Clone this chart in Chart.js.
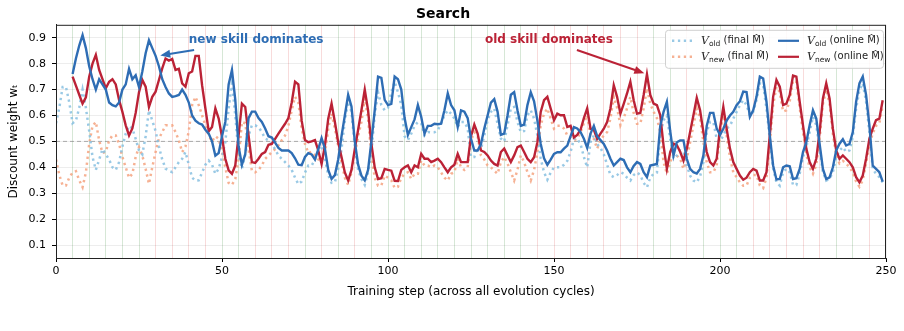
<!DOCTYPE html>
<html>
<head>
<meta charset="utf-8">
<script src="https://cdn.jsdelivr.net/npm/chart.js@4.4.1/dist/chart.umd.min.js"></script>
<style>
  html, body { margin: 0; padding: 0; background: #fff; }
  #wrap { width: 904px; height: 331px; position: relative; }
</style>
</head>
<body>
<div id="wrap"><canvas id="chart"></canvas></div>
<script>
// steps where each series begins
const finalStart = 0;
const onlineStart = 5;

// V_old, online M-hat (steps 5..249)
const oldOnline = [
  0.76,0.82,0.87,0.91,0.86,0.79,0.74,0.70,0.74,0.72,
  0.70,0.65,0.64,0.635,0.65,0.70,0.72,0.78,0.74,0.755,
  0.71,0.77,0.84,0.89,0.86,0.83,0.79,0.74,0.71,0.685,
  0.672,0.675,0.679,0.70,0.68,0.65,0.60,0.58,0.57,0.565,
  0.545,0.53,0.50,0.445,0.455,0.52,0.575,0.72,0.776,0.66,
  0.48,0.41,0.45,0.59,0.615,0.615,0.59,0.575,0.55,0.52,
  0.515,0.495,0.475,0.465,0.465,0.465,0.455,0.435,0.41,0.408,
  0.44,0.455,0.45,0.43,0.47,0.513,0.472,0.39,0.355,0.37,
  0.43,0.52,0.60,0.68,0.635,0.50,0.41,0.368,0.35,0.39,
  0.50,0.62,0.75,0.745,0.66,0.64,0.645,0.75,0.74,0.70,
  0.59,0.525,0.555,0.585,0.64,0.595,0.53,0.56,0.56,0.568,
  0.566,0.568,0.62,0.685,0.64,0.62,0.556,0.62,0.615,0.59,
  0.51,0.465,0.465,0.49,0.55,0.60,0.65,0.663,0.615,0.525,
  0.53,0.60,0.68,0.69,0.62,0.56,0.565,0.64,0.69,0.655,
  0.58,0.49,0.435,0.41,0.43,0.452,0.458,0.458,0.472,0.484,
  0.52,0.555,0.55,0.536,0.51,0.475,0.53,0.56,0.52,0.505,
  0.49,0.465,0.433,0.407,0.42,0.433,0.428,0.40,0.381,0.405,
  0.42,0.413,0.381,0.362,0.407,0.41,0.413,0.56,0.614,0.653,
  0.54,0.446,0.497,0.504,0.504,0.433,0.394,0.381,0.376,0.394,
  0.446,0.56,0.61,0.61,0.55,0.525,0.549,0.58,0.60,0.614,
  0.64,0.655,0.692,0.69,0.595,0.62,0.672,0.75,0.743,0.653,
  0.523,0.407,0.353,0.355,0.40,0.407,0.404,0.355,0.358,0.394,
  0.459,0.497,0.562,0.62,0.588,0.491,0.394,0.355,0.361,0.40,
  0.465,0.491,0.508,0.484,0.49,0.536,0.653,0.724,0.75,0.679,
  0.562,0.407,0.394,0.381,0.345
];

// V_new, online M-hat (steps 5..249)
const newOnline = [
  0.75,0.715,0.68,0.646,0.67,0.75,0.80,0.834,0.776,0.74,
  0.705,0.73,0.74,0.72,0.66,0.614,0.562,0.523,0.55,0.61,
  0.69,0.737,0.711,0.633,0.672,0.692,0.737,0.782,0.82,0.812,
  0.818,0.776,0.78,0.724,0.711,0.763,0.77,0.83,0.83,0.717,
  0.627,0.539,0.556,0.627,0.588,0.517,0.433,0.388,0.375,0.407,
  0.523,0.646,0.633,0.523,0.42,0.417,0.433,0.452,0.459,0.487,
  0.49,0.51,0.53,0.549,0.568,0.59,0.65,0.73,0.72,0.58,
  0.505,0.497,0.50,0.505,0.465,0.413,0.484,0.588,0.646,0.575,
  0.497,0.44,0.38,0.349,0.39,0.47,0.545,0.62,0.70,0.62,
  0.49,0.40,0.355,0.358,0.394,0.39,0.387,0.348,0.347,0.39,
  0.40,0.407,0.381,0.407,0.40,0.452,0.433,0.433,0.42,0.426,
  0.433,0.42,0.40,0.381,0.40,0.41,0.452,0.42,0.42,0.42,
  0.52,0.565,0.53,0.465,0.459,0.446,0.426,0.413,0.407,0.459,
  0.472,0.446,0.42,0.446,0.478,0.484,0.459,0.433,0.42,0.439,
  0.497,0.614,0.659,0.672,0.627,0.582,0.607,0.601,0.601,0.556,
  0.56,0.515,0.525,0.545,0.59,0.627,0.549,0.545,0.51,0.53,
  0.549,0.575,0.627,0.717,0.672,0.607,0.645,0.685,0.73,0.659,
  0.607,0.61,0.679,0.759,0.679,0.646,0.64,0.601,0.484,0.394,
  0.459,0.491,0.485,0.46,0.426,0.472,0.536,0.601,0.668,0.62,
  0.536,0.459,0.42,0.407,0.433,0.55,0.633,0.549,0.472,0.42,
  0.394,0.368,0.352,0.36,0.381,0.394,0.387,0.349,0.349,0.381,
  0.523,0.672,0.737,0.711,0.64,0.646,0.679,0.754,0.75,0.653,
  0.562,0.472,0.42,0.394,0.433,0.536,0.666,0.724,0.666,0.549,
  0.465,0.433,0.446,0.433,0.42,0.40,0.362,0.342,0.368,0.433,
  0.51,0.549,0.582,0.588,0.659
];

// V_old, final M-hat (steps 0..249)
const oldFinal = [
  0.57,0.63,0.71,0.71,0.65,0.57,0.58,0.63,0.70,0.63,
  0.54,0.44,0.39,0.43,0.47,0.45,0.43,0.40,0.39,0.42,
  0.48,0.53,0.56,0.55,0.51,0.465,0.45,0.52,0.62,0.58,
  0.54,0.48,0.43,0.395,0.387,0.381,0.40,0.42,0.433,0.459,
  0.41,0.36,0.349,0.35,0.38,0.41,0.426,0.41,0.375,0.394,
  0.44,0.497,0.627,0.724,0.60,0.45,0.394,0.45,0.523,0.562,
  0.562,0.555,0.536,0.511,0.505,0.49,0.47,0.445,0.433,0.42,
  0.407,0.39,0.36,0.335,0.345,0.38,0.407,0.407,0.43,0.47,
  0.484,0.433,0.37,0.34,0.342,0.394,0.47,0.58,0.653,0.614,
  0.48,0.39,0.355,0.332,0.381,0.46,0.60,0.69,0.64,0.62,
  0.63,0.69,0.73,0.69,0.64,0.52,0.505,0.53,0.56,0.575,
  0.57,0.523,0.536,0.535,0.535,0.543,0.57,0.60,0.62,0.607,
  0.588,0.556,0.575,0.575,0.55,0.44,0.44,0.478,0.47,0.523,
  0.582,0.614,0.627,0.568,0.511,0.50,0.562,0.627,0.633,0.575,
  0.536,0.54,0.601,0.62,0.588,0.523,0.433,0.381,0.352,0.38,
  0.40,0.40,0.40,0.41,0.425,0.46,0.51,0.51,0.49,0.44,
  0.40,0.497,0.523,0.49,0.475,0.45,0.41,0.37,0.362,0.37,
  0.381,0.375,0.36,0.349,0.37,0.38,0.37,0.34,0.323,0.36,
  0.375,0.38,0.523,0.582,0.60,0.51,0.433,0.446,0.465,0.46,
  0.407,0.368,0.349,0.342,0.365,0.42,0.536,0.575,0.575,0.51,
  0.50,0.523,0.549,0.56,0.588,0.614,0.64,0.659,0.64,0.60,
  0.614,0.66,0.724,0.718,0.627,0.51,0.394,0.342,0.329,0.381,
  0.394,0.381,0.332,0.332,0.375,0.44,0.478,0.536,0.595,0.562,
  0.472,0.381,0.349,0.355,0.381,0.44,0.465,0.478,0.459,0.465,
  0.517,0.627,0.698,0.724,0.653,0.536,0.394,0.375,0.362,0.342
];

// V_new, final M-hat (steps 0..249)
const newFinal = [
  0.43,0.37,0.33,0.33,0.36,0.38,0.385,0.35,0.323,0.38,
  0.49,0.56,0.575,0.504,0.455,0.46,0.504,0.523,0.523,0.49,
  0.44,0.40,0.36,0.375,0.44,0.478,0.445,0.394,0.336,0.40,
  0.459,0.511,0.536,0.562,0.562,0.562,0.536,0.504,0.459,0.48,
  0.54,0.64,0.672,0.64,0.601,0.562,0.523,0.50,0.52,0.51,
  0.46,0.40,0.34,0.332,0.355,0.433,0.575,0.57,0.47,0.387,
  0.381,0.39,0.407,0.433,0.445,0.459,0.47,0.484,0.505,0.523,
  0.56,0.62,0.672,0.65,0.55,0.49,0.455,0.46,0.445,0.43,
  0.426,0.45,0.549,0.607,0.549,0.484,0.42,0.36,0.332,0.381,
  0.45,0.52,0.575,0.666,0.588,0.45,0.36,0.329,0.33,0.368,
  0.36,0.35,0.32,0.325,0.36,0.375,0.381,0.355,0.375,0.375,
  0.426,0.407,0.407,0.40,0.407,0.40,0.38,0.36,0.349,0.375,
  0.381,0.433,0.40,0.39,0.40,0.504,0.536,0.52,0.446,0.43,
  0.407,0.40,0.387,0.375,0.42,0.44,0.415,0.381,0.349,0.39,
  0.446,0.42,0.381,0.349,0.39,0.459,0.562,0.607,0.627,0.588,
  0.549,0.56,0.56,0.55,0.523,0.515,0.505,0.51,0.536,0.57,
  0.601,0.523,0.51,0.472,0.505,0.523,0.536,0.588,0.672,0.63,
  0.562,0.59,0.627,0.672,0.61,0.568,0.568,0.627,0.705,0.645,
  0.614,0.59,0.536,0.42,0.375,0.42,0.452,0.445,0.433,0.394,
  0.433,0.497,0.562,0.627,0.59,0.497,0.42,0.381,0.381,0.407,
  0.523,0.601,0.523,0.439,0.381,0.362,0.342,0.329,0.33,0.36,
  0.37,0.37,0.33,0.32,0.36,0.49,0.64,0.71,0.69,0.615,
  0.62,0.655,0.735,0.73,0.63,0.535,0.45,0.40,0.375,0.41,
  0.51,0.645,0.70,0.645,0.53,0.445,0.415,0.425,0.415,0.40,
  0.38,0.345,0.325,0.35,0.415,0.49,0.53,0.56,0.57,0.64
];

// cycle boundaries every 5 steps: G = old phase, R = new phase
const boundarySteps = [];
for (let s = 5; s <= 245; s += 5) boundarySteps.push(s);
const boundaryPhase = 'GGGGGRRRRGGRRRGRGRGGGGGGGGGGRRRRRRRGGRGGGRRRRRGGR'.split('');

const xTicks = [0, 50, 100, 150, 200, 250];
const yTicks = [0.1, 0.2, 0.3, 0.4, 0.5, 0.6, 0.7, 0.8, 0.9];
const refLevel = 0.5;

const BLUE = '#2e6db4';
const RED = '#bb2236';
const LBLUE = 'rgba(135,192,225,0.85)';
const SALMON = 'rgba(244,163,128,0.85)';
const DOTS = [2.3, 3.6];

function toPoints(arr, start){
  return arr.map(function(v, i){ return {x: start + i, y: v}; });
}

const notes = [
  {text: 'new skill dominates', color: BLUE, tx: 40, ty: 0.892, from: [41.6, 0.853], to: [31.4, 0.832]},
  {text: 'old skill dominates', color: RED, tx: 129.2, ty: 0.892, from: [156.9, 0.853], to: [177.2, 0.763]}
];

// draws the two annotation arrows and the framed legend
const decorPlugin = {
  id: 'decor',
  afterDatasetsDraw: function(chart){
    const ctx = chart.ctx, xs = chart.scales.x, ys = chart.scales.y;
    const a = chart.chartArea;
    ctx.save();
    // top / right spines
    ctx.strokeStyle = '#222';
    ctx.lineWidth = 1;
    ctx.strokeRect(a.left + 0.5, a.top + 0.5, a.right - a.left - 1, a.bottom - a.top);

    notes.forEach(function(n){
      ctx.font = 'bold 12px "DejaVu Sans"';
      ctx.fillStyle = n.color;
      ctx.textBaseline = 'middle';
      ctx.textAlign = 'left';
      ctx.fillText(n.text, xs.getPixelForValue(n.tx), ys.getPixelForValue(n.ty));
      const x1 = xs.getPixelForValue(n.from[0]), y1 = ys.getPixelForValue(n.from[1]);
      const x2 = xs.getPixelForValue(n.to[0]), y2 = ys.getPixelForValue(n.to[1]);
      const ang = Math.atan2(y2 - y1, x2 - x1);
      ctx.strokeStyle = n.color;
      ctx.lineWidth = 2;
      ctx.beginPath();
      ctx.moveTo(x1, y1);
      ctx.lineTo(x2 - 6 * Math.cos(ang), y2 - 6 * Math.sin(ang));
      ctx.stroke();
      ctx.beginPath();
      ctx.moveTo(x2, y2);
      ctx.lineTo(x2 - 10 * Math.cos(ang) + 4 * Math.sin(ang), y2 - 10 * Math.sin(ang) - 4 * Math.cos(ang));
      ctx.lineTo(x2 - 10 * Math.cos(ang) - 4 * Math.sin(ang), y2 - 10 * Math.sin(ang) + 4 * Math.cos(ang));
      ctx.closePath();
      ctx.fill();
    });

    // legend box
    const bx = a.right - 221, by = a.top + 5, bw = 218, bh = 38;
    ctx.fillStyle = 'rgba(255,255,255,0.85)';
    ctx.strokeStyle = '#d0d0d0';
    ctx.lineWidth = 1;
    ctx.beginPath();
    ctx.roundRect(bx + 0.5, by + 0.5, bw, bh, 3);
    ctx.fill();
    ctx.stroke();

    const items = [
      {sub: 'old', tail: ' (final M\u0302)', color: LBLUE, dotted: true, col: 0, row: 0},
      {sub: 'new', tail: ' (final M\u0302)', color: SALMON, dotted: true, col: 0, row: 1},
      {sub: 'old', tail: ' (online M\u0302)', color: BLUE, dotted: false, col: 1, row: 0},
      {sub: 'new', tail: ' (online M\u0302)', color: RED, dotted: false, col: 1, row: 1}
    ];
    items.forEach(function(it){
      const x0 = bx + 6 + it.col * 106, y0 = by + 11 + it.row * 16;
      ctx.strokeStyle = it.color;
      ctx.lineWidth = it.dotted ? 2.5 : 2.2;
      ctx.setLineDash(it.dotted ? DOTS : []);
      ctx.beginPath();
      ctx.moveTo(x0 + 1, y0);
      ctx.lineTo(x0 + 22, y0);
      ctx.stroke();
      ctx.setLineDash([]);
      let tx = x0 + 30;
      ctx.fillStyle = '#222';
      ctx.textAlign = 'left';
      ctx.textBaseline = 'middle';
      ctx.font = 'italic 11px "DejaVu Serif"';
      ctx.fillText('V', tx, y0);
      tx += ctx.measureText('V').width;
      ctx.font = '7.5px "DejaVu Sans"';
      ctx.fillText(it.sub, tx, y0 + 3);
      tx += ctx.measureText(it.sub).width;
      ctx.font = '10px "DejaVu Sans"';
      ctx.fillText(it.tail, tx, y0);
    });
    ctx.restore();
  }
};

const ctx = document.getElementById('chart').getContext('2d');
const chart = new Chart(ctx, {
  type: 'line',
  data: {
    datasets: [
      {label: 'V_old (online)', data: toPoints(oldOnline, onlineStart), borderColor: BLUE, borderWidth: 2.4, pointRadius: 0, tension: 0},
      {label: 'V_new (online)', data: toPoints(newOnline, onlineStart), borderColor: RED, borderWidth: 2.4, pointRadius: 0, tension: 0},
      {label: 'V_old (final)', data: toPoints(oldFinal, finalStart), borderColor: LBLUE, borderWidth: 2.5, borderDash: DOTS, pointRadius: 0, tension: 0},
      {label: 'V_new (final)', data: toPoints(newFinal, finalStart), borderColor: SALMON, borderWidth: 2.5, borderDash: DOTS, pointRadius: 0, tension: 0},
      {label: 'ref', data: [{x: 0, y: refLevel}, {x: 250, y: refLevel}], borderColor: 'rgba(140,140,140,0.7)', borderWidth: 1, borderDash: [4, 3], pointRadius: 0}
    ]
  },
  options: {
    responsive: true,
    maintainAspectRatio: false,
    animation: false,
    layout: {padding: {left: 0, right: 18, top: 0, bottom: 0}},
    plugins: {
      legend: {display: false},
      tooltip: {enabled: false},
      title: {
        display: true,
        text: 'Search',
        color: '#000',
        font: {family: 'DejaVu Sans', size: 14, weight: 'bold'},
        padding: {top: 6, bottom: 2}
      }
    },
    scales: {
      x: {
        type: 'linear',
        min: 0,
        max: 250,
        afterFit: function(scale){ scale.height = 73; },
        afterBuildTicks: function(scale){
          scale.ticks = [0].concat(boundarySteps, [250]).map(function(v){ return {value: v}; });
        },
        ticks: {
          autoSkip: false,
          maxRotation: 0,
          padding: 3,
          color: '#000',
          font: {family: 'DejaVu Sans', size: 11},
          callback: function(v){ return xTicks.indexOf(v) >= 0 ? String(v) : ''; }
        },
        grid: {
          drawTicks: true,
          tickLength: 4,
          lineWidth: 1,
          color: function(c){
            const i = boundarySteps.indexOf(c.tick.value);
            if (i < 0) return 'rgba(0,0,0,0.05)';
            return boundaryPhase[i] === 'G' ? 'rgba(90,160,90,0.25)' : 'rgba(225,90,90,0.22)';
          },
          tickColor: function(c){ return xTicks.indexOf(c.tick.value) >= 0 ? '#000' : 'rgba(0,0,0,0)'; }
        },
        border: {color: '#222', width: 1},
        title: {
          display: true,
          text: 'Training step (across all evolution cycles)',
          color: '#000',
          font: {family: 'DejaVu Sans', size: 12},
          padding: {top: 0, bottom: 32}
        }
      },
      y: {
        min: 0.05,
        max: 0.95,
        afterFit: function(scale){ scale.width = 56; },
        afterBuildTicks: function(scale){
          scale.ticks = yTicks.map(function(v){ return {value: v}; });
        },
        ticks: {
          padding: 6,
          color: '#000',
          font: {family: 'DejaVu Sans', size: 11},
          callback: function(v){ return v.toFixed(1); }
        },
        grid: {
          drawTicks: true,
          tickLength: 4,
          color: 'rgba(0,0,0,0.07)',
          tickColor: '#000'
        },
        border: {color: '#222', width: 1},
        title: {
          display: true,
          text: 'Discount weight w\u209C',
          color: '#000',
          font: {family: 'DejaVu Sans', size: 12},
          padding: {top: 7, bottom: 0}
        }
      }
    }
  },
  plugins: [decorPlugin]
});
</script>
</body>
</html>
